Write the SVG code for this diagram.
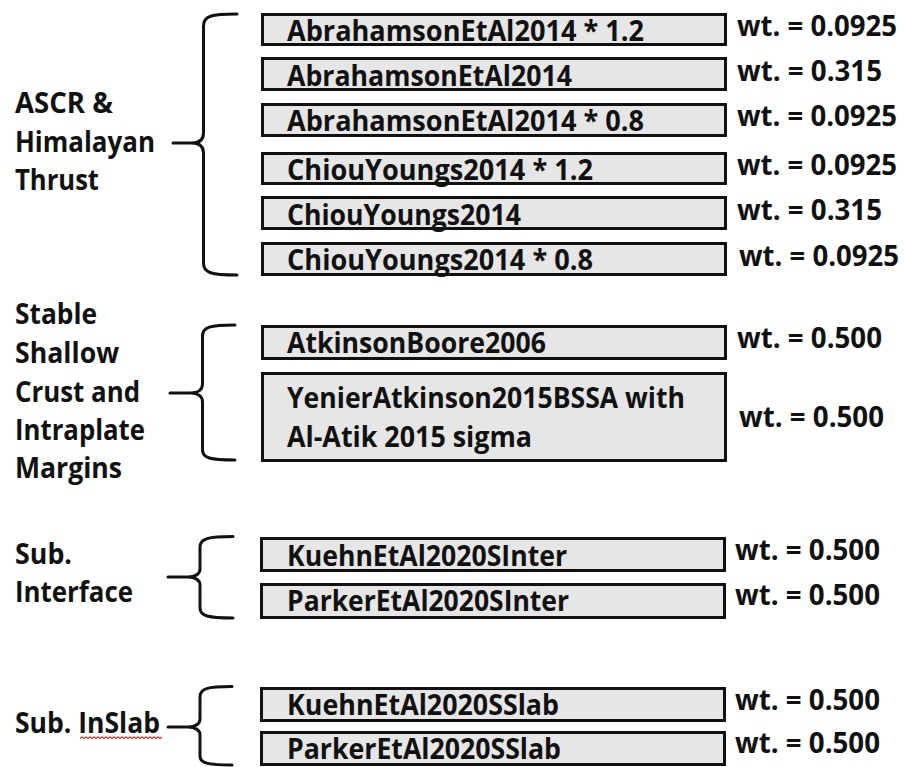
<svg xmlns="http://www.w3.org/2000/svg" width="904" height="767" viewBox="0 0 904 767">
<style>
.bg{fill:#ffffff}
.box{fill:#e7e6e6;stroke:#111111;stroke-width:3}
.t{font-family:"Open Sans","Liberation Sans",sans-serif;font-weight:700;font-size:28px;fill:#111111}
.brace{fill:none;stroke:#111111;stroke-width:3;stroke-linecap:round;stroke-linejoin:round}
.wavy{fill:none;stroke:#e0302a;stroke-width:1.2}
</style>
<rect class="bg" x="0" y="0" width="904" height="767"/>

<g id="connectors">
<path class="brace" d="M237,14 C211,14 203.5,16 203.5,26 L203.5,133 C203.5,140 198.5,143 191.5,143 L173,143 M191.5,143 C198.5,143 203.5,146 203.5,153 L203.5,263 C203.5,273 211,275 237,275"/>
<path class="brace" d="M235,325 C210,325 202.5,327 202.5,336 L202.5,384 C202.5,390 197.5,393 190.5,393 L170,393 M190.5,393 C197.5,393 202.5,396 202.5,402 L202.5,450 C202.5,458 210,460 235,460"/>
<path class="brace" d="M233,536.5 C208,536.5 200,538.5 200,547 L200,569 C200,574 195,577 188,577 L168,577 M188,577 C195,577 200,580 200,585 L200,608 C200,616 208,618 233,618"/>
<path class="brace" d="M232,686.5 C207,686.5 200,688.5 200,697 L200,719 C200,724 195,727 188,727 L168,727 M188,727 C195,727 200,730 200,735 L200,756 C200,763 207,765 232,765"/>
</g>

<g id="label-ascr">
<text class="t" x="15" y="113" textLength="98" lengthAdjust="spacingAndGlyphs">ASCR &amp;</text>
<text class="t" x="15" y="152" textLength="140" lengthAdjust="spacingAndGlyphs">Himalayan</text>
<text class="t" x="15" y="190" textLength="84" lengthAdjust="spacingAndGlyphs">Thrust</text>
</g>
<g id="label-stable">
<text class="t" x="15" y="324" textLength="82" lengthAdjust="spacingAndGlyphs">Stable</text>
<text class="t" x="15" y="363" textLength="104" lengthAdjust="spacingAndGlyphs">Shallow</text>
<text class="t" x="15" y="402" textLength="125" lengthAdjust="spacingAndGlyphs">Crust and</text>
<text class="t" x="15" y="440" textLength="130" lengthAdjust="spacingAndGlyphs">Intraplate</text>
<text class="t" x="15" y="478" textLength="107" lengthAdjust="spacingAndGlyphs">Margins</text>
</g>
<g id="label-interface">
<text class="t" x="15" y="564" textLength="57" lengthAdjust="spacingAndGlyphs">Sub.</text>
<text class="t" x="15" y="602" textLength="118" lengthAdjust="spacingAndGlyphs">Interface</text>
</g>
<g id="label-inslab">
<text class="t" x="15" y="733" textLength="145" lengthAdjust="spacingAndGlyphs">Sub. InSlab</text>
<path class="wavy" d="M80,738.5 l2,-1.5 l2,1.5 l2,-1.5 l2,1.5 l2,-1.5 l2,1.5 l2,-1.5 l2,1.5 l2,-1.5 l2,1.5 l2,-1.5 l2,1.5 l2,-1.5 l2,1.5 l2,-1.5 l2,1.5 l2,-1.5 l2,1.5 l2,-1.5 l2,1.5 l2,-1.5 l2,1.5 l2,-1.5 l2,1.5 l2,-1.5 l2,1.5 l2,-1.5 l2,1.5 l2,-1.5 l2,1.5 l2,-1.5 l2,1.5 l2,-1.5 l2,1.5 l2,-1.5 l2,1.5 l2,-1.5 l2,1.5 l2,-1.5 l2,1.5 l2,-1.5"/>
</g>

<g id="n-abr12">
<rect class="box" x="262.5" y="14.5" width="463" height="30"/>
<text class="t" x="287" y="41" textLength="357" lengthAdjust="spacingAndGlyphs">AbrahamsonEtAl2014 * 1.2</text>
<text class="t" x="737" y="36" textLength="160" lengthAdjust="spacingAndGlyphs">wt. = 0.0925</text>
</g>
<g id="n-abr">
<rect class="box" x="262.5" y="58.5" width="463" height="31"/>
<text class="t" x="287" y="86" textLength="285" lengthAdjust="spacingAndGlyphs">AbrahamsonEtAl2014</text>
<text class="t" x="737" y="81" textLength="145" lengthAdjust="spacingAndGlyphs">wt. = 0.315</text>
</g>
<g id="n-abr08">
<rect class="box" x="262.5" y="104.5" width="463" height="31"/>
<text class="t" x="287" y="131" textLength="357" lengthAdjust="spacingAndGlyphs">AbrahamsonEtAl2014 * 0.8</text>
<text class="t" x="737" y="126" textLength="160" lengthAdjust="spacingAndGlyphs">wt. = 0.0925</text>
</g>
<g id="n-cy12">
<rect class="box" x="262.5" y="153.5" width="463" height="30"/>
<text class="t" x="287" y="180" textLength="306" lengthAdjust="spacingAndGlyphs">ChiouYoungs2014 * 1.2</text>
<text class="t" x="737" y="175" textLength="160" lengthAdjust="spacingAndGlyphs">wt. = 0.0925</text>
</g>
<g id="n-cy">
<rect class="box" x="262.5" y="197.5" width="463" height="31"/>
<text class="t" x="287" y="225" textLength="234" lengthAdjust="spacingAndGlyphs">ChiouYoungs2014</text>
<text class="t" x="737" y="220" textLength="145" lengthAdjust="spacingAndGlyphs">wt. = 0.315</text>
</g>
<g id="n-cy08">
<rect class="box" x="262.5" y="243.5" width="463" height="31"/>
<text class="t" x="287" y="270" textLength="306" lengthAdjust="spacingAndGlyphs">ChiouYoungs2014 * 0.8</text>
<text class="t" x="739" y="266" textLength="160" lengthAdjust="spacingAndGlyphs">wt. = 0.0925</text>
</g>

<g id="n-ab2006">
<rect class="box" x="262.5" y="326.5" width="463" height="32"/>
<text class="t" x="287" y="353" textLength="259" lengthAdjust="spacingAndGlyphs">AtkinsonBoore2006</text>
<text class="t" x="737" y="348" textLength="145" lengthAdjust="spacingAndGlyphs">wt. = 0.500</text>
</g>
<g id="n-ya2015">
<rect class="box" x="262.5" y="373.5" width="463" height="87"/>
<text class="t" x="287" y="408" textLength="398" lengthAdjust="spacingAndGlyphs">YenierAtkinson2015BSSA with</text>
<text class="t" x="287" y="447" textLength="245" lengthAdjust="spacingAndGlyphs">Al-Atik 2015 sigma</text>
<text class="t" x="739" y="427" textLength="145" lengthAdjust="spacingAndGlyphs">wt. = 0.500</text>
</g>

<g id="n-kuehn-inter">
<rect class="box" x="261.5" y="538.5" width="463" height="32"/>
<text class="t" x="287" y="566" textLength="280" lengthAdjust="spacingAndGlyphs">KuehnEtAl2020SInter</text>
<text class="t" x="735" y="560" textLength="145" lengthAdjust="spacingAndGlyphs">wt. = 0.500</text>
</g>
<g id="n-parker-inter">
<rect class="box" x="261.5" y="584.5" width="463" height="33"/>
<text class="t" x="287" y="611" textLength="282" lengthAdjust="spacingAndGlyphs">ParkerEtAl2020SInter</text>
<text class="t" x="735" y="605" textLength="145" lengthAdjust="spacingAndGlyphs">wt. = 0.500</text>
</g>

<g id="n-kuehn-slab">
<rect class="box" x="261.5" y="688.5" width="463" height="32"/>
<text class="t" x="287" y="715" textLength="272" lengthAdjust="spacingAndGlyphs">KuehnEtAl2020SSlab</text>
<text class="t" x="735" y="710" textLength="145" lengthAdjust="spacingAndGlyphs">wt. = 0.500</text>
</g>
<g id="n-parker-slab">
<rect class="box" x="261.5" y="732.5" width="463" height="32"/>
<text class="t" x="287" y="759" textLength="274" lengthAdjust="spacingAndGlyphs">ParkerEtAl2020SSlab</text>
<text class="t" x="735" y="753" textLength="145" lengthAdjust="spacingAndGlyphs">wt. = 0.500</text>
</g>
</svg>
